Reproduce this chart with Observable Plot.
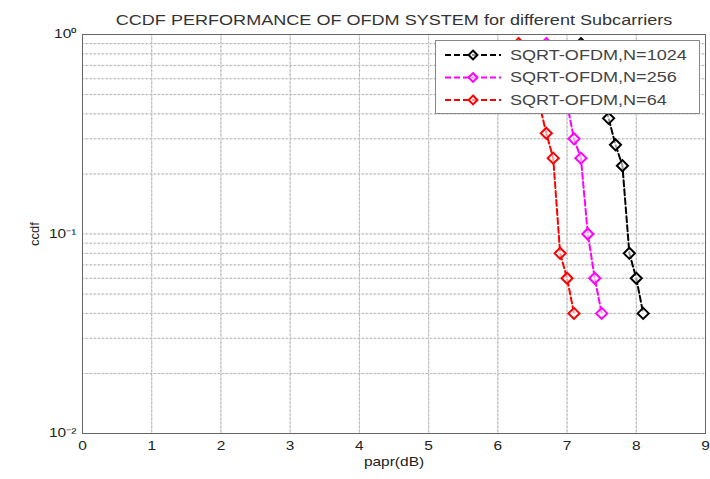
<!DOCTYPE html>
<html><head><meta charset="utf-8">
<script src="https://cdn.jsdelivr.net/npm/d3@7"></script>
<script src="https://cdn.jsdelivr.net/npm/@observablehq/plot@0.6"></script>
<style>
body{margin:0;background:#fff;font-family:"Liberation Sans",Arial,sans-serif}
#wrap{position:relative;width:710px;height:479px;overflow:hidden}
#legend{position:absolute;left:435px;top:40px;width:265px;height:74px;background:#fff;border:1px solid #888;box-sizing:border-box}
</style>
</head><body>
<div id="wrap"><div id="plot"></div><div id="legend"></div></div>
<script>
const titleText = "CCDF PERFORMANCE OF OFDM SYSTEM for different Subcarriers";
const xLabel = "papr(dB)";
const yLabel = "ccdf";
const seriesNames = ["SQRT-OFDM,N=1024", "SQRT-OFDM,N=256", "SQRT-OFDM,N=64"];
const seriesColors = ["#000000", "#ff00ff", "#ff0000"];

const paprN1024 = [7.2, 7.3, 7.4, 7.5, 7.6, 7.7, 7.8, 7.9, 8.0, 8.1];
const ccdfN1024 = [0.9, 0.78, 0.64, 0.5, 0.38, 0.28, 0.22, 0.08, 0.06, 0.04];
const paprN256 = [6.7, 6.8, 6.9, 7.0, 7.1, 7.2, 7.3, 7.4, 7.5];
const ccdfN256 = [0.9, 0.78, 0.6, 0.45, 0.30, 0.24, 0.10, 0.06, 0.04];
const paprN64 = [6.3, 6.4, 6.5, 6.6, 6.7, 6.8, 6.9, 7.0, 7.1];
const ccdfN64 = [0.9, 0.78, 0.62, 0.45, 0.32, 0.24, 0.08, 0.06, 0.04];

const xTicks = [0, 1, 2, 3, 4, 5, 6, 7, 8, 9];
const yTicks = [1, 0.1, 0.01];
const yTickLabels = ["10\u2070", "10\u207B\u00B9", "10\u207B\u00B2"];
const yGrid = [0.02,0.03,0.04,0.05,0.06,0.07,0.08,0.09,0.1,0.2,0.3,0.4,0.5,0.6,0.7,0.8,0.9];

const rows = [];
[[paprN1024, ccdfN1024], [paprN256, ccdfN256], [paprN64, ccdfN64]].forEach(([xs, ys], i) => {
  xs.forEach((x, j) => rows.push({series: seriesNames[i], papr: x, ccdf: ys[j]}));
});

const STRETCH = 1.29;
const chart = Plot.plot({
  width: 710, height: 479,
  marginLeft: 82, marginRight: 5, marginTop: 34, marginBottom: 46,
  style: {fontFamily: "'Liberation Sans', Arial, sans-serif", fontSize: "12px", color: "#222", background: "#fff"},
  x: {domain: [0, 9], ticks: xTicks, tickSize: 0, tickPadding: 8, label: xLabel, labelAnchor: "center", labelArrow: "none", labelOffset: 32},
  y: {type: "log", domain: [0.01, 1], ticks: yTicks, tickFormat: (d) => yTickLabels[yTicks.indexOf(d)], tickSize: 0, tickPadding: 6, label: yLabel, labelAnchor: "center", labelArrow: "none", labelOffset: 53},
  color: {domain: seriesNames, range: seriesColors},
  marks: [
    Plot.ruleX(xTicks.slice(1, -1), {stroke: "#d0d0d0", strokeWidth: 1}),
    Plot.ruleX(xTicks.slice(1, -1), {stroke: "#b0b0b0", strokeWidth: 1, strokeDasharray: "1.5,2.5"}),
    Plot.ruleY(yGrid, {stroke: "#e2e2e2", strokeWidth: 1}),
    Plot.ruleY(yGrid, {stroke: "#a8a8a8", strokeWidth: 1, strokeDasharray: "1.5,2.5"}),
    Plot.frame({stroke: "#666"}),
    Plot.line(rows, {x: "papr", y: "ccdf", z: "series", stroke: "series", strokeWidth: 2, strokeDasharray: "6,3", clip: true}),
    Plot.dot(rows, {x: "papr", y: "ccdf", stroke: "series", symbol: "diamond2", r: 5, strokeWidth: 2, fill: "white", fillOpacity: 0.6, clip: true}),
    Plot.text([titleText], {frameAnchor: "top", dy: -19, fontSize: 14, fill: "#333"})
  ]
});
document.getElementById("plot").appendChild(chart);

// stretch texts horizontally like the reference
d3.select(chart).selectAll("text").each(function() {
  const t = this.textContent;
  if (t === yLabel) return;
  const len = this.getComputedTextLength();
  if (len > 0) {
    this.setAttribute("textLength", len * STRETCH);
    this.setAttribute("lengthAdjust", "spacingAndGlyphs");
  }
});
d3.select(chart).selectAll("text").filter(function(){return this.textContent === xLabel || this.textContent === yLabel;}).attr("font-size", 13);

// legend
const lg = d3.select("#legend").append("svg").attr("width", 263).attr("height", 72)
  .style("font-family", "'Liberation Sans', Arial, sans-serif");
seriesNames.forEach((name, i) => {
  const cy = 14 + i * 22.5;
  const g = lg.append("g");
  g.append("line").attr("x1", 9).attr("x2", 65).attr("y1", cy).attr("y2", cy)
    .attr("stroke", seriesColors[i]).attr("stroke-width", 2).attr("stroke-dasharray", "6,3");
  g.append("path").attr("d", d3.symbol(d3.symbolDiamond2, 5 * 5 * 2)())
    .attr("transform", `translate(37,${cy})`).attr("fill", "white").attr("fill-opacity", 0.6)
    .attr("stroke", seriesColors[i]).attr("stroke-width", 2);
  const tx = g.append("text").attr("x", 74).attr("y", cy).attr("dy", "0.35em")
    .attr("font-size", 14).attr("fill", "#444").text(name);
  const len = tx.node().getComputedTextLength();
  tx.attr("textLength", len * STRETCH).attr("lengthAdjust", "spacingAndGlyphs");
});
</script>
</body></html>
